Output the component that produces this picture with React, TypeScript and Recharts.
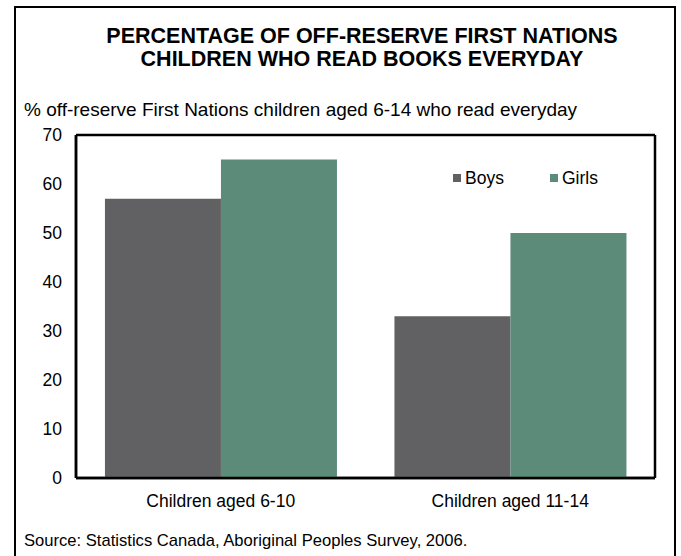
import React from "react";
import { BarChart, Bar, XAxis, YAxis, CartesianGrid } from "recharts";

const categories = ["Children aged 6-10", "Children aged 11-14"];
const boys = [57, 33];
const girls = [65, 50];
const yTicks = [0, 10, 20, 30, 40, 50, 60, 70];
const seriesNames = ["Boys", "Girls"];
const colors = ["#616163", "#5c8b79"];

const data = categories.map((c, i) => ({ name: c, Boys: boys[i], Girls: girls[i] }));

const FONT = "'Liberation Sans', Arial, sans-serif";

const LegendBox = () => (
  <div style={{ position: "absolute", left: 453, top: 168, display: "flex", fontSize: 17.5, lineHeight: "20px", color: "#000" }}>
    {seriesNames.map((n, i) => (
      <div key={n} style={{ display: "flex", alignItems: "center", width: 97 }}>
        <span style={{ display: "inline-block", width: 8, height: 8, background: colors[i], marginRight: 4 }} />
        <span>{n}</span>
      </div>
    ))}
  </div>
);

export default function App() {
  return (
    <div style={{ position: "absolute", left: 0, top: 0, width: 681, height: 556, background: "#fff", overflow: "hidden", fontFamily: FONT }}>
      <div style={{ position: "absolute", left: 14, top: 6, width: 662, height: 600, border: "2px solid #000", boxSizing: "border-box" }} />
      <div style={{ position: "absolute", left: 0, top: 25, width: 724, textAlign: "center", fontWeight: "bold", fontSize: 21.5, lineHeight: "23px" }}>
        PERCENTAGE OF OFF-RESERVE FIRST NATIONS<br />CHILDREN WHO READ BOOKS EVERYDAY
      </div>
      <div style={{ position: "absolute", left: 24, top: 99, fontSize: 19, lineHeight: "22px", whiteSpace: "nowrap" }}>
        % off-reserve First Nations children aged 6-14 who read everyday
      </div>
      <div style={{ position: "absolute", left: 24, top: 531, fontSize: 16.6, lineHeight: "20px", whiteSpace: "nowrap" }}>
        Source: Statistics Canada, Aboriginal Peoples Survey, 2006.
      </div>
      <div style={{ position: "absolute", left: 0, top: 0 }}>
        <BarChart width={681} height={556} data={data} margin={{ top: 135, right: 26, bottom: 48, left: 16 }} barCategoryGap="10%" barGap={0}>
          <CartesianGrid
            stroke="#000"
            strokeWidth={2.5}
            horizontalCoordinatesGenerator={({ offset }: any) => [offset.top, offset.top + offset.height]}
            verticalCoordinatesGenerator={({ offset }: any) => [offset.left, offset.left + offset.width]}
          />
          <XAxis dataKey="name" height={30} axisLine={{ stroke: "#000", strokeWidth: 2.5 }} tickLine={false} tick={{ fill: "#000", fontSize: 17.5, fontFamily: FONT }} tickMargin={11} />
          <YAxis width={60} domain={[0, 70]} ticks={yTicks} interval={0} axisLine={{ stroke: "#000", strokeWidth: 2.5 }} tickLine={false} tick={{ fill: "#000", fontSize: 17.5, fontFamily: FONT }} tickMargin={8} />
          <Bar dataKey="Boys" fill={colors[0]} isAnimationActive={false} />
          <Bar dataKey="Girls" fill={colors[1]} isAnimationActive={false} />
        </BarChart>
      </div>
      <LegendBox />
    </div>
  );
}
